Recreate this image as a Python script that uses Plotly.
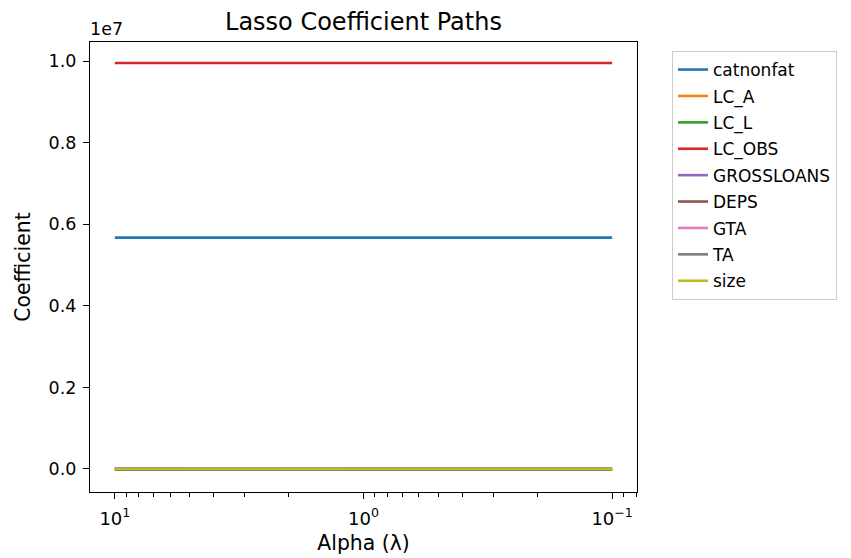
import plotly.graph_objects as go

alphas = [10.0, 5.0, 2.0, 1.0, 0.5, 0.2, 0.1]

catnonfat = [5.67e6, 5.67e6, 5.67e6, 5.67e6, 5.67e6, 5.67e6, 5.67e6]
lc_a = [1.2e4, 1.2e4, 1.2e4, 1.2e4, 1.2e4, 1.2e4, 1.2e4]
lc_l = [-2.0e4, -2.0e4, -2.0e4, -2.0e4, -2.0e4, -2.0e4, -2.0e4]
lc_obs = [9.95e6, 9.95e6, 9.95e6, 9.95e6, 9.95e6, 9.95e6, 9.95e6]
grossloans = [1.5e4, 2.0e3, 2.0e3, 2.0e3, 2.0e3, 2.0e3, 2.0e3]
deps = [-1.5e3, -1.5e3, -1.5e3, -1.5e3, -1.5e3, -1.5e3, -1.5e3]
gta = [1.2e4, 5.0e3, 5.0e3, 5.0e3, 5.0e3, 5.0e3, 5.0e3]
ta = [-3.0e3, -3.0e3, -3.0e3, -3.0e3, -3.0e3, -3.0e3, -3.0e3]
size = [1.0e3, 1.0e3, 1.0e3, 1.0e3, 1.0e3, 1.0e3, 1.0e3]

names = ["catnonfat", "LC_A", "LC_L", "LC_OBS", "GROSSLOANS", "DEPS", "GTA", "TA", "size"]
series = [catnonfat, lc_a, lc_l, lc_obs, grossloans, deps, gta, ta, size]
colors = ["#1f77b4", "#ff7f0e", "#2ca02c", "#d62728", "#9467bd",
          "#8c564b", "#e377c2", "#7f7f7f", "#bcbd22"]

y_tickvals = [0.0, 0.2e7, 0.4e7, 0.6e7, 0.8e7, 1.0e7]
y_ticktext = ["0.0", "0.2", "0.4", "0.6", "0.8", "1.0"]
x_tickvals = [10, 1, 0.1]
x_ticktext = ["10<sup>1</sup>", "10<sup>0</sup>", "10<sup>−1</sup>"]
x_minor = [20, 9, 8, 7, 6, 5, 4, 3, 2, 0.9, 0.8, 0.7, 0.6, 0.5, 0.4, 0.3, 0.2, 0.09, 0.08]

FONT = "DejaVu Sans"

fig = go.Figure()
for i, (n, s, c) in enumerate(zip(names, series, colors)):
    fig.add_trace(go.Scatter(x=alphas, y=s, mode="lines", name=n,
                             line=dict(color=c, width=2.6), legendgroup=f"g{i}"))

axis_common = dict(showline=True, linecolor="black", linewidth=1.2, mirror=True,
                   ticks="outside", ticklen=6, tickwidth=1.2, tickcolor="black",
                   showgrid=False, zeroline=False, automargin=False)

fig.update_xaxes(type="log", range=[1.1, -1.1], tickmode="array",
                 tickvals=x_tickvals, ticktext=x_ticktext,
                 tickfont=dict(family=FONT, size=18, color="black"),
                 ticklabelstandoff=4,
                 minor=dict(tickvals=x_minor, ticks="outside", ticklen=3.5,
                            tickwidth=1, tickcolor="black", showgrid=False),
                 title=dict(text="Alpha (λ)", font=dict(family=FONT, size=20.4, color="black"),
                            standoff=8),
                 **axis_common)
fig.update_yaxes(range=[-0.0564e7, 1.0466e7], tickmode="array",
                 tickvals=y_tickvals, ticktext=y_ticktext,
                 tickfont=dict(family=FONT, size=17.5, color="black"),
                 ticklabelstandoff=3,
                 title=dict(text="Coefficient", font=dict(family=FONT, size=20.4, color="black"),
                            standoff=12),
                 **axis_common)

fig.add_annotation(text="1e7", xref="paper", yref="paper", x=0, y=1,
                   xanchor="left", yanchor="bottom", showarrow=False, yshift=1, xshift=-2,
                   font=dict(family=FONT, size=17.5, color="black"))

fig.update_layout(
    width=843, height=550,
    margin=dict(l=82, r=214, t=34, b=66),
    paper_bgcolor="white", plot_bgcolor="white",
    title=dict(text="Lasso Coefficient Paths", x=(82 + 629) / 2 / 843, xanchor="center",
               y=1 - 14 / 550, yanchor="middle",
               font=dict(family=FONT, size=24, color="black")),
    legend=dict(x=1.064, y=0.98, xanchor="left", yanchor="top",
                bordercolor="#cccccc", borderwidth=1, bgcolor="white",
                font=dict(family=FONT, size=17, color="black"),
                tracegroupgap=1.3),
    showlegend=True,
)

fig.write_html("out.html")
